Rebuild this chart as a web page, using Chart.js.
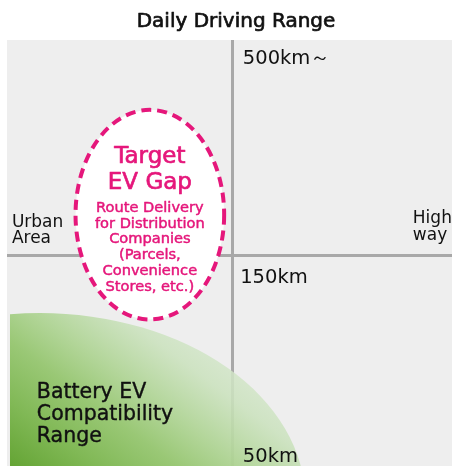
<!DOCTYPE html>
<html>
<head>
<meta charset="utf-8">
<script src="https://cdn.jsdelivr.net/npm/chart.js@4/dist/chart.umd.min.js"></script>
<style>
  html, body { margin: 0; padding: 0; background: #fff; }
  #wrap { width: 452px; height: 466px; }
</style>
</head>
<body>
<div id="wrap"><canvas id="chart" width="452" height="466"></canvas></div>
<script>
// ============================================================
// Data
// ============================================================
const chartTitle = 'Daily Driving Range';
const sideLabels = [['Urban', 'Area'], ['High', 'way']];   // x axis ends
const rangeLabels = ['500km～', '150km', '50km'];          // y axis, top -> bottom
const gapTitle = ['Target', 'EV Gap'];
const gapDetail = ['Route Delivery', 'for Distribution', 'Companies', '(Parcels,', 'Convenience', 'Stores, etc.)'];
const bevLabel = ['Battery EV', 'Compatibility', 'Range'];

// axis units: x 0 (urban) -> 100 (highway), y 0 (short) -> 100 (long)
const crossX = 50.7;
const crossY = 49.4;
const gapZone = { x: 32.1, y: 59.0, rx: 16.7, ry: 24.6 };
const bevZone = { x: 7.4, y: -8.0, rx: 59.6, ry: 43.9 };

// label anchors (axis units, baseline)
const sidePos = [[1.1, 56.2], [91.2, 57.0]];
const rangePos = [[53.0, 94.4], [52.4, 43.0], [53.0, 1.0]];
const bevPos = [6.7, 15.4];

const PINK = '#e5177b';
const FONT = '"DejaVu Sans", sans-serif';

// text with a light outline, close to a medium weight
function medText(ctx, t, x, y, w) {
  ctx.fillText(t, x, y);
  ctx.lineWidth = w;
  ctx.strokeStyle = ctx.fillStyle;
  ctx.strokeText(t, x, y);
}

// ============================================================
// Drawing plugin
// ============================================================
const zonesPlugin = {
  id: 'zones',
  beforeDraw(chart) {
    const { ctx, chartArea: a } = chart;
    ctx.save();
    ctx.fillStyle = '#eeeeee';
    ctx.fillRect(a.left, a.top, a.right - a.left, a.bottom - a.top);
    ctx.restore();
  },
  beforeDatasetsDraw(chart) {
    const { ctx, chartArea: a, scales: { x, y } } = chart;
    const px = v => x.getPixelForValue(v);
    const py = v => y.getPixelForValue(v);

    // green: battery EV range, fading toward the upper right
    ctx.save();
    ctx.beginPath();
    ctx.rect(a.left + 3, a.top, a.right - a.left - 3, a.bottom - a.top);
    ctx.clip();
    const gx = px(bevZone.x), gy = py(bevZone.y);
    const grx = px(bevZone.x + bevZone.rx) - gx, gry = gy - py(bevZone.y + bevZone.ry);
    const x0 = a.left + 3, y0 = a.bottom;
    const grad = ctx.createLinearGradient(x0, y0, x0 + 150, y0 - 200);
    grad.addColorStop(0, 'rgba(100,164,52,1)');
    grad.addColorStop(0.2, 'rgba(128,184,85,1)');
    grad.addColorStop(0.4, 'rgba(152,199,115,0.98)');
    grad.addColorStop(0.55, 'rgba(175,212,148,0.95)');
    grad.addColorStop(0.75, 'rgba(203,226,190,0.88)');
    grad.addColorStop(1, 'rgba(222,235,217,0.82)');
    ctx.fillStyle = grad;
    ctx.beginPath();
    ctx.ellipse(gx, gy, grx, gry, 0, 0, Math.PI * 2);
    ctx.fill();
    ctx.restore();

    // dashed ellipse: target EV gap
    const ex = px(gapZone.x), ey = py(gapZone.y);
    const erx = px(gapZone.x + gapZone.rx) - ex, ery = ey - py(gapZone.y + gapZone.ry);
    ctx.save();
    ctx.beginPath();
    ctx.ellipse(ex, ey, erx, ery, 0, 0, Math.PI * 2);
    ctx.fillStyle = '#ffffff';
    ctx.fill();
    ctx.setLineDash([10, 6]);
    ctx.lineWidth = 4;
    ctx.strokeStyle = PINK;
    ctx.stroke();
    ctx.restore();
  },
  afterDraw(chart) {
    const { ctx, scales: { x, y } } = chart;
    const px = v => x.getPixelForValue(v);
    const py = v => y.getPixelForValue(v);
    ctx.save();
    ctx.textBaseline = 'alphabetic';
    ctx.lineJoin = 'round';

    // title
    ctx.fillStyle = '#111';
    ctx.textAlign = 'center';
    ctx.font = '20px ' + FONT;
    medText(ctx, chartTitle, 236, 27, 0.7);

    // gap text
    ctx.fillStyle = PINK;
    ctx.font = '23px ' + FONT;
    const cx = px(gapZone.x);
    gapTitle.forEach((t, i) => medText(ctx, t, cx, 163 + i * 25.5, 0.7));
    ctx.font = '14.6px ' + FONT;
    gapDetail.forEach((t, i) => medText(ctx, t, cx, 212 + i * 15.7, 0.5));

    // side labels
    ctx.fillStyle = '#111';
    ctx.textAlign = 'left';
    ctx.font = '17px ' + FONT;
    sideLabels.forEach((lines, i) => {
      lines.forEach((t, j) => ctx.fillText(t, px(sidePos[i][0]), py(sidePos[i][1]) + j * 16.8));
    });

    // range labels
    ctx.font = '19.5px ' + FONT;
    rangeLabels.forEach((t, i) => ctx.fillText(t, px(rangePos[i][0]), py(rangePos[i][1])));

    // battery EV label
    ctx.font = '20.5px ' + FONT;
    bevLabel.forEach((t, i) => medText(ctx, t, px(bevPos[0]), 398 + i * 22.2, 0.4));
    ctx.restore();
  }
};

// ============================================================
// Chart
// ============================================================
const crossAxis = (value) => ({
  type: 'linear',
  min: 0,
  max: 100,
  afterBuildTicks: s => { s.ticks = [{ value }]; },
  ticks: { display: false },
  border: { display: false },
  grid: { color: '#a8a8a8', lineWidth: 3, drawTicks: false }
});

new Chart(document.getElementById('chart'), {
  type: 'scatter',
  data: { datasets: [] },
  options: {
    responsive: false,
    animation: false,
    layout: { padding: { top: 40, left: 7, right: 0, bottom: 0 } },
    plugins: { legend: { display: false }, tooltip: { enabled: false } },
    scales: { x: crossAxis(crossX), y: crossAxis(crossY) }
  },
  plugins: [zonesPlugin]
});
</script>
</body>
</html>
